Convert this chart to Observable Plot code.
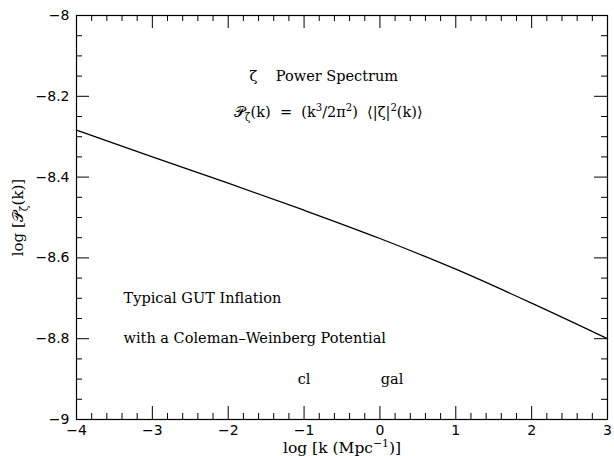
<!DOCTYPE html>
<html><head><meta charset="utf-8">
<script src="https://cdn.jsdelivr.net/npm/d3@7"></script>
<script src="https://cdn.jsdelivr.net/npm/@observablehq/plot@0.6"></script>
<style>
html,body{margin:0;padding:0;background:#fff;}
svg text{white-space:pre;}
</style></head><body><div id="chart"></div>
<script>
// ---- data ----
const logK = [-4, -3, -2, -1, 0, 1, 2, 3];
const logP = [-8.284, -8.350, -8.415, -8.482, -8.552, -8.628, -8.712, -8.800];

const xTicks = [-4, -3, -2, -1, 0, 1, 2, 3];
const yTicks = [-9, -8.8, -8.6, -8.4, -8.2, -8];

const noteText = [
  "ζ    Power Spectrum",
  "𝒫_{ζ}(k)  =  (k^{3}/2π^{2})  ⟨|ζ|^{2}(k)⟩",
  "Typical GUT Inflation",
  "with a Coleman–Weinberg Potential",
  "cl",
  "gal"
];
const noteX = [-0.74, -0.68, -3.38, -3.38, -1.0, 0.16];
const noteY = [-8.15, -8.24, -8.70, -8.80, -8.90, -8.90];
const noteAnchor = ["middle", "middle", "start", "start", "middle", "middle"];

const xTitle = "log [k (Mpc^{−1})]";
const yTitle = "log [𝒫_{ζ}(k)]";

// ---- layout ----
const W = 614, H = 456, mL = 76, mR = 7, mT = 15, mB = 37;
const pw = W - mL - mR, ph = H - mT - mB;

// ---- derived tables ----
const series = logK.map((k, i) => ({k, p: logP[i]}));
const notes = noteText.map((t, i) => ({t, x: noteX[i], y: noteY[i], a: noteAnchor[i]}));
const xMinor = d3.range(-4, 3.0001, 0.2).map(v => +v.toFixed(1)).filter(v => !Number.isInteger(v));
const yMinor = d3.range(-9, -7.9999, 0.05).map(v => +v.toFixed(2)).filter(v => !yTicks.includes(v));
const fmt = d => (d < 0 ? "−" : "") + String(Math.abs(d));

const serif = "DejaVu Serif";
const tk = (data, side, len) => {
  const o = {stroke: "black", strokeWidth: 1};
  if (side === "bottom") return Plot.ruleX(data, {...o, x: d => d, insetTop: ph - len});
  if (side === "top") return Plot.ruleX(data, {...o, x: d => d, insetBottom: ph - len});
  if (side === "left") return Plot.ruleY(data, {...o, y: d => d, insetRight: pw - len});
  return Plot.ruleY(data, {...o, y: d => d, insetLeft: pw - len});
};

const chart = Plot.plot({
  width: W,
  height: H,
  marginLeft: mL,
  marginRight: mR,
  marginTop: mT,
  marginBottom: mB,
  style: {fontFamily: "DejaVu Sans", fontSize: "14px", color: "black", background: "white"},
  x: {domain: [-4, 3]},
  y: {domain: [-9, -8]},
  marks: [
    Plot.axisX(xTicks, {anchor: "bottom", tickSize: 0, tickPadding: 6, tickFormat: fmt, label: null, fontSize: 14}),
    Plot.axisY(yTicks, {anchor: "left", tickSize: 0, tickPadding: 7, tickFormat: fmt, label: null, fontSize: 14}),
    tk(xTicks, "bottom", 13), tk(xMinor, "bottom", 6),
    tk(xTicks, "top", 13), tk(xMinor, "top", 6),
    tk(yTicks, "left", 13), tk(yMinor, "left", 6),
    tk(yTicks, "right", 13), tk(yMinor, "right", 6),
    Plot.frame({stroke: "black", strokeWidth: 1.2}),
    Plot.line(series, {x: "k", y: "p", curve: "monotone-x", stroke: "black", strokeWidth: 1.3}),
    Plot.text(notes.filter(d => d.a === "middle"), {x: "x", y: "y", text: "t", textAnchor: "middle", fontFamily: serif, fontSize: 14.5, fill: "black"}),
    Plot.text(notes.filter(d => d.a === "start"), {x: "x", y: "y", text: "t", textAnchor: "start", fontFamily: serif, fontSize: 14.5, fill: "black"}),
    Plot.text([xTitle], {frameAnchor: "bottom", dy: 29, lineAnchor: "middle", textAnchor: "middle", text: d => d, fontFamily: serif, fontSize: 15.5, fill: "black"}),
    Plot.text([yTitle], {frameAnchor: "left", dx: -58, rotate: -90, lineAnchor: "middle", textAnchor: "middle", text: d => d, fontFamily: serif, fontSize: 15, fill: "black"})
  ]
});
document.getElementById("chart").appendChild(chart);

// ---- turn _{..} and ^{..} into sub/superscript tspans ----
const NS = "http://www.w3.org/2000/svg";
function richify(el) {
  const s = el.textContent;
  if (!/[_^]\{/.test(s)) return;
  const fs = parseFloat(getComputedStyle(el).fontSize) || 13;
  while (el.firstChild) el.removeChild(el.firstChild);
  let cur = 0;
  const add = (txt, target, small) => {
    if (!txt) return;
    const t = document.createElementNS(NS, "tspan");
    t.textContent = txt;
    const d = target - cur;
    if (d) t.setAttribute("dy", d.toFixed(2));
    cur = target;
    if (small) t.setAttribute("font-size", (fs * 0.7).toFixed(1));
    el.appendChild(t);
  };
  const re = /([_^])\{([^}]*)\}/g;
  let last = 0, m;
  while ((m = re.exec(s))) {
    add(s.slice(last, m.index), 0, false);
    add(m[2], m[1] === "^" ? -0.42 * fs : 0.3 * fs, true);
    last = re.lastIndex;
  }
  add(s.slice(last), 0, false);
}
chart.querySelectorAll("text").forEach(richify);
</script>
</body></html>
